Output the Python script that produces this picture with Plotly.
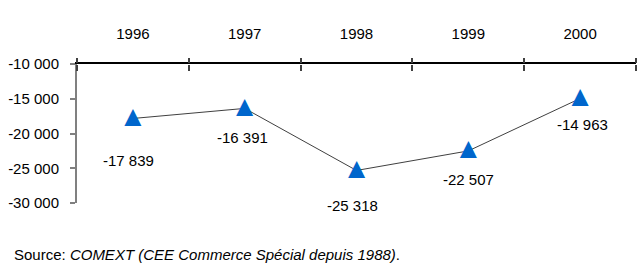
import plotly.graph_objects as go

years = ["1996", "1997", "1998", "1999", "2000"]
values = [-17839, -16391, -25318, -22507, -14963]
value_labels = ["-17 839", "-16 391", "-25 318", "-22 507", "-14 963"]
label_yshift = [-42, -29, -35, -29, -26]
label_xshift = [-4, -2, -4, 0, 2]
ytick_vals = [-10000, -15000, -20000, -25000, -30000]
ytick_text = ["-10 000", "-15 000", "-20 000", "-25 000", "-30 000"]

FONT = "Liberation Sans, Arial, sans-serif"
idx = list(range(len(years)))

fig = go.Figure()
fig.add_trace(go.Scatter(
    x=idx, y=values, mode="lines+text", text=["▲"] * len(years),
    textposition="middle center",
    textfont=dict(family="Liberation Sans", size=29, color="#0066CC"),
    line=dict(color="#404040", width=1),
    showlegend=False, hoverinfo="skip"))
fig.add_trace(go.Scatter(
    x=idx, y=values, xaxis="x2", mode="markers",
    marker=dict(opacity=0), showlegend=False, hoverinfo="skip"))

for i, y, t, s, xs in zip(idx, values, value_labels, label_yshift, label_xshift):
    fig.add_annotation(x=i, y=y, text=t, showarrow=False, yshift=s, xshift=xs,
                       font=dict(family=FONT, size=15, color="black"))

fig.add_annotation(xref="paper", yref="paper", x=-0.117, y=-0.37, xanchor="left",
                   yanchor="middle", showarrow=False,
                   text="Source: <i>COMEXT (CEE Commerce Spécial depuis 1988)</i>.",
                   font=dict(family=FONT, size=15, color="black"))
fig.add_annotation(xref="paper", yref="paper", x=0.466, y=1.448, xanchor="center",
                   yanchor="bottom", showarrow=False,
                   text="(en millions €),",
                   font=dict(family=FONT, size=15, color="black"))

fig.update_layout(
    width=637, height=278,
    margin=dict(l=77, r=1, t=64, b=75),
    paper_bgcolor="white", plot_bgcolor="white",
    font=dict(family=FONT, size=15, color="black"),
    xaxis=dict(tickmode="array", tickvals=idx, ticktext=years, side="top",
               range=[-0.5, 4.5], ticks="", automargin=False,
               showline=True, linecolor="black", linewidth=1.5,
               showgrid=False, zeroline=False, ticklabelstandoff=17,
               tickfont=dict(family=FONT, size=15)),
    xaxis2=dict(overlaying="x", side="top", range=[-0.5, 4.5],
                tickmode="array", tickvals=[i - 0.5 for i in idx] + [4.5],
                ticks="outside", ticklen=5, tickcolor="#404040", tickwidth=1.5,
                showticklabels=False, showline=False, showgrid=False,
                zeroline=False, automargin=False),
    xaxis3=dict(overlaying="x", side="bottom", anchor="free", position=1,
                range=[-0.5, 4.5],
                tickmode="array", tickvals=[i - 0.5 for i in idx] + [4.5],
                ticks="outside", ticklen=6, tickcolor="#404040", tickwidth=1.5,
                showticklabels=False, showline=False, showgrid=False,
                zeroline=False, automargin=False),
    yaxis=dict(range=[-30000, -10000], tickvals=ytick_vals, ticktext=ytick_text,
               ticks="outside", ticklen=5, tickcolor="#808080", tickwidth=1.5,
               showline=True, linecolor="#808080", linewidth=2,
               showgrid=False, zeroline=False, automargin=False,
               ticklabelstandoff=8,
               tickfont=dict(family=FONT, size=15)),
)
fig.add_trace(go.Scatter(
    x=idx, y=values, xaxis="x3", mode="markers",
    marker=dict(opacity=0), showlegend=False, hoverinfo="skip"))

fig.write_html("out.html", config={"displayModeBar": False},
               post_script="document.body.style.margin='0';document.body.style.overflow='hidden';")
